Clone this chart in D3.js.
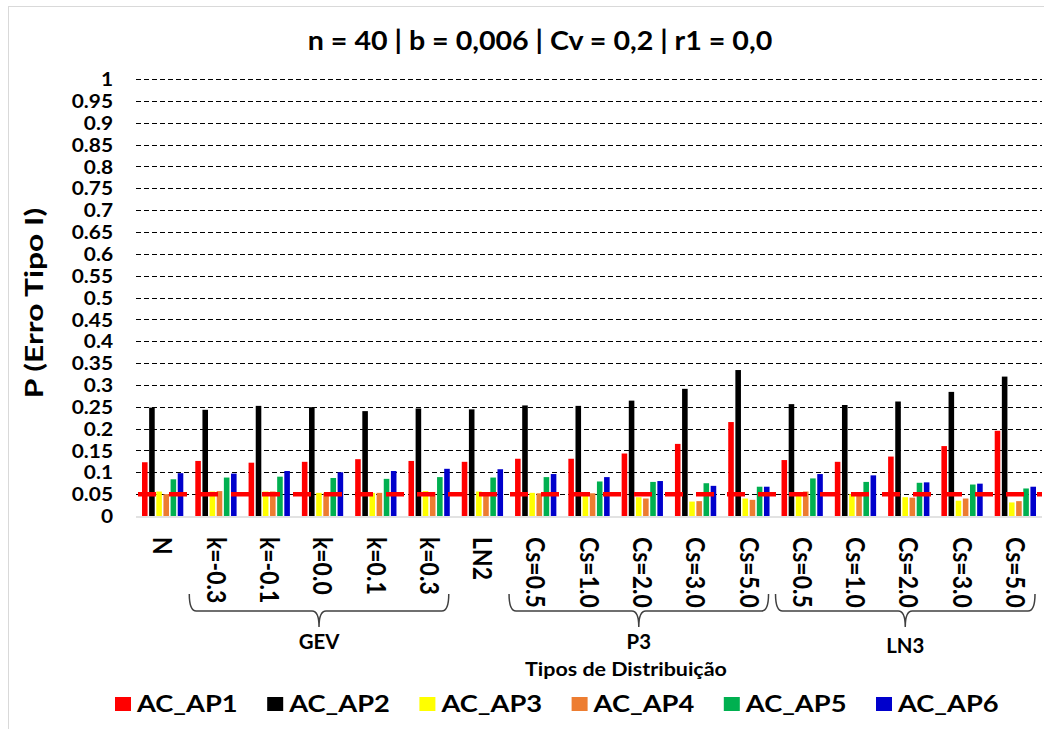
<!DOCTYPE html>
<html><head><meta charset="utf-8">
<script src="https://cdn.jsdelivr.net/npm/d3@7"></script>
<style>
html,body{margin:0;padding:0;background:#fff;}
text{font-family:Lato,"Open Sans",sans-serif;font-weight:700;fill:#000;}
</style></head>
<body><svg id="c" width="1044" height="729"></svg>
<script>
const categories = ["N","k=-0.3","k=-0.1","k=0.0","k=0.1","k=0.3","LN2","Cs=0.5","Cs=1.0","Cs=2.0","Cs=3.0","Cs=5.0","Cs=0.5","Cs=1.0","Cs=2.0","Cs=3.0","Cs=5.0"];
const seriesNames = ["AC_AP1","AC_AP2","AC_AP3","AC_AP4","AC_AP5","AC_AP6"];
const seriesColors = ["#ff0000","#000000","#ffff00","#ed7d31","#00b050","#0000cc"];
const AP1 = [0.123,0.126,0.122,0.124,0.130,0.126,0.124,0.131,0.131,0.143,0.165,0.215,0.128,0.124,0.136,0.160,0.195];
const AP2 = [0.248,0.243,0.252,0.249,0.240,0.246,0.244,0.253,0.252,0.264,0.291,0.334,0.256,0.254,0.262,0.284,0.319];
const AP3 = [0.056,0.056,0.056,0.053,0.053,0.057,0.056,0.053,0.054,0.043,0.033,0.040,0.055,0.050,0.043,0.035,0.031];
const AP4 = [0.050,0.057,0.056,0.053,0.053,0.055,0.053,0.052,0.052,0.040,0.034,0.037,0.056,0.050,0.042,0.040,0.034];
const AP5 = [0.084,0.088,0.090,0.087,0.085,0.089,0.088,0.089,0.079,0.078,0.075,0.067,0.086,0.078,0.076,0.072,0.063];
const AP6 = [0.098,0.097,0.103,0.100,0.103,0.108,0.107,0.096,0.089,0.080,0.069,0.067,0.096,0.093,0.077,0.074,0.067];
const refLevel = [0.05,0.05,0.05,0.05,0.05,0.05,0.05,0.05,0.05,0.05,0.05,0.05,0.05,0.05,0.05,0.05,0.05];
const yTickValues = [0,0.05,0.1,0.15,0.2,0.25,0.3,0.35,0.4,0.45,0.5,0.55,0.6,0.65,0.7,0.75,0.8,0.85,0.9,0.95,1];
const yTickLabels = ["0","0.05","0.1","0.15","0.2","0.25","0.3","0.35","0.4","0.45","0.5","0.55","0.6","0.65","0.7","0.75","0.8","0.85","0.9","0.95","1"];
const groupNames = ["GEV","P3","LN3"];
const groupFirst = [1,7,12];
const groupLast = [5,11,16];
const title = "n = 40 | b = 0,006 | Cv = 0,2 | r1 = 0,0";
const xTitle = "Tipos de Distribuição";
const yTitle = "P (Erro Tipo I)";

const series = [AP1,AP2,AP3,AP4,AP5,AP6];
const svg = d3.select("#c");
const L = 136, R = 1042, T = 79, B = 516;

// frame
svg.append("rect").attr("x",8.5).attr("y",6.5).attr("width",1060).attr("height",740)
  .attr("fill","none").attr("stroke","#d9d9d9").attr("stroke-width",1);

const idx = categories.map((d,i)=>i);
const x = d3.scaleBand().domain(idx).range([L,R]).paddingInner(0.225).paddingOuter(0.1125);
const xs = d3.scaleBand().domain(d3.range(series.length)).range([0,x.bandwidth()]).paddingInner(0.22);
const y = d3.scaleLinear().domain([0,1]).range([B,T]);

// gridlines
svg.append("g").selectAll("line").data(yTickValues.filter(v=>v>0)).join("line")
  .attr("x1",L).attr("x2",R).attr("y1",d=>Math.round(y(d))+0.5).attr("y2",d=>Math.round(y(d))+0.5)
  .attr("stroke","#000").attr("stroke-width",1).attr("stroke-dasharray","5,3");

// y axis labels
const yAxis = d3.axisLeft(y).tickValues(yTickValues).tickFormat((d,i)=>yTickLabels[i]).tickSize(0).tickPadding(0);
const ga = svg.append("g").attr("transform",`translate(${L-23},0)`).call(yAxis);
ga.select(".domain").remove();
ga.selectAll("text").attr("font-size",18.5).attr("font-family","Lato").attr("font-weight",700).attr("fill","#000")
  .attr("dy","0.36em").attr("transform","scale(1.13,1)");

// baseline
svg.append("line").attr("x1",L).attr("x2",R).attr("y1",B+1).attr("y2",B+1).attr("stroke","#d9d9d9").attr("stroke-width",1.5);

// bars
const gBars = svg.append("g");
idx.forEach(i=>{
  const g = gBars.append("g").attr("transform",`translate(${x(i)},0)`);
  g.selectAll("rect").data(series.map((s,j)=>({j,v:s[i]}))).join("rect")
    .attr("x",d=>xs(d.j)).attr("width",xs.bandwidth())
    .attr("y",d=>y(d.v)).attr("height",d=>y(0)-y(d.v))
    .attr("fill",d=>seriesColors[d.j]);
});

// reference dashed line
const pts = idx.map(i=>[x(i)-x.step()*x.paddingOuter()+ (i===0?2:0), refLevel[i]]);
pts.push([R, refLevel[refLevel.length-1]]);
svg.append("path").attr("d", d3.line().x(d=>d[0]).y(d=>y(d[1]))(pts))
  .attr("fill","none").attr("stroke","#ff0000").attr("stroke-width",4.5).attr("stroke-dasharray","18,13");

// category labels
svg.append("g").selectAll("text").data(idx).join("text")
  .attr("transform",i=>`translate(${x(i)+x.bandwidth()/2},537) rotate(90) scale(1,1.12)`)
  .attr("dy","0.36em").attr("font-size",23).text(i=>categories[i]);

// group brackets
groupNames.forEach((name,k)=>{
  const x0 = x(groupFirst[k]) - 6, x1 = x(groupLast[k]) + x.bandwidth() - 1;
  const cx = (x0+x1)/2;
  const top = 594, mid = 611, tip = 627, r = 7;
  const p = d3.path();
  p.moveTo(x0,top);
  p.quadraticCurveTo(x0,mid,x0+r,mid);
  p.lineTo(cx-r,mid);
  p.quadraticCurveTo(cx,mid,cx,tip);
  p.moveTo(cx,tip);
  p.quadraticCurveTo(cx,mid,cx+r,mid);
  p.lineTo(x1-r,mid);
  p.quadraticCurveTo(x1,mid,x1,top);
  svg.append("path").attr("d",p.toString()).attr("fill","none").attr("stroke","#404040").attr("stroke-width",1.5);
  svg.append("text").attr("transform",`translate(${cx},${k===2?653:649}) scale(1.02,1)`).attr("text-anchor","middle").attr("font-size",20).text(name);
});

// axis titles
svg.append("text").attr("transform","translate(626,676) scale(1.1,1)").attr("text-anchor","middle").attr("font-size",19.5).text(xTitle);
svg.append("text").attr("transform","translate(43,303) rotate(-90) scale(1.27,1)").attr("text-anchor","middle").attr("font-size",25).text(yTitle);
svg.append("text").attr("transform","translate(540,50) scale(1.1,1)").attr("text-anchor","middle").attr("font-size",26).text(title);

// legend
const lg = svg.append("g");
seriesNames.forEach((n,j)=>{
  const lx = 115 + j*152.2;
  lg.append("rect").attr("x",lx).attr("y",697).attr("width",16).attr("height",14).attr("fill",seriesColors[j]);
  lg.append("text").attr("transform",`translate(${lx+22},712) scale(1.16,1)`).attr("font-size",23.5).text(n);
});
</script></body></html>
